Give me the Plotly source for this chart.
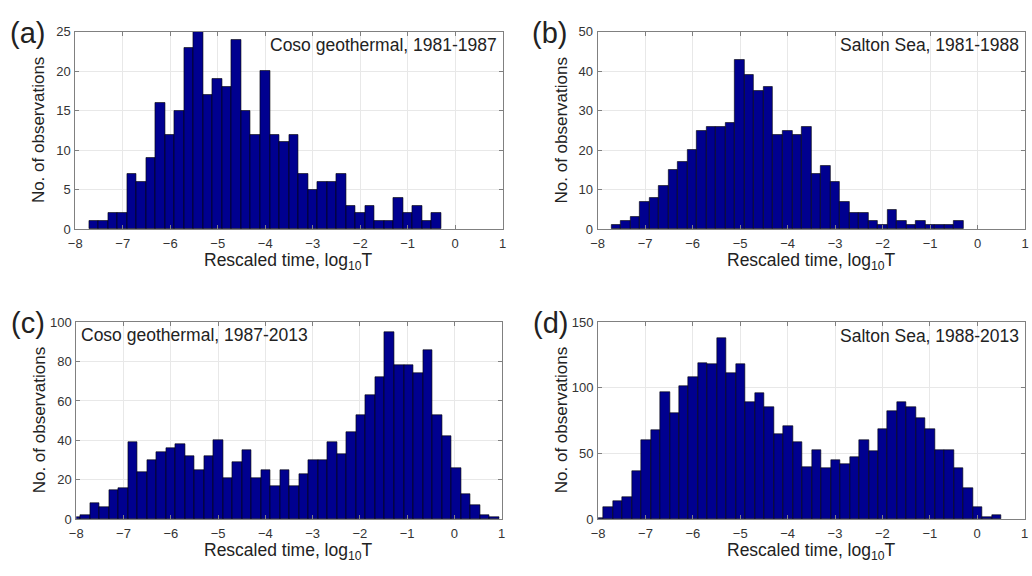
import numpy as np
import plotly.graph_objects as go

# ---- data ----
x_tick_vals = [-8, -7, -6, -5, -4, -3, -2, -1, 0, 1]

# (a) Coso geothermal, 1981-1987
a_counts = [1, 1, 2, 2, 7, 6, 9, 16, 12, 15, 23, 25, 17, 19, 18, 24, 15, 12, 20,
            12, 11, 12, 7, 5, 6, 6, 7, 3, 2, 3, 1, 1, 4, 2, 3, 1, 2]
a_bin_start = -7.71
a_bin_width = 0.2003

# (b) Salton Sea, 1981-1988
b_counts = [1, 2, 3, 7, 8, 11, 15, 17, 20, 25, 26, 26, 27, 43, 39, 35, 36, 24, 25,
            24, 26, 14, 16, 12, 7, 4, 4, 2, 1, 5, 2, 1, 2, 1, 1, 1, 2]
b_bin_start = -7.71
b_bin_width = 0.2003

# (c) Coso geothermal, 1987-2013
c_counts = [1, 2, 8, 6, 15, 16, 39, 24, 30, 34, 36, 38, 32, 25, 32, 40, 21, 29, 35,
            21, 25, 17, 25, 17, 23, 30, 30, 39, 33, 44, 53, 63, 72, 95, 78, 78, 74,
            86, 53, 42, 26, 13, 7, 2, 1]
c_bin_start = -8.11
c_bin_width = 0.2011

# (d) Salton Sea, 1988-2013
d_counts = [1, 9, 14, 17, 37, 60, 68, 97, 81, 101, 108, 119, 118, 138, 111, 118, 89,
            96, 85, 65, 71, 59, 40, 53, 39, 45, 42, 47, 60, 52, 69, 82, 89, 85, 77,
            69, 53, 53, 39, 24, 9, 2, 3]
d_bin_start = -8.09
d_bin_width = 0.2

panel_labels = ["(a)", "(b)", "(c)", "(d)"]
panel_titles = ["Coso geothermal, 1981-1987", "Salton Sea, 1981-1988",
                "Coso geothermal, 1987-2013", "Salton Sea, 1988-2013"]
y_ranges = [[0, 25], [0, 50], [0, 100], [0, 150]]
y_dticks = [5, 10, 20, 50]
x_title = "Rescaled time, log<sub>10</sub>T"
y_title = "No. of observations"

# ---- figure ----
W, H = 1032, 576
FONT = "Liberation Sans, Arial, Helvetica, sans-serif"
TXT = "#222222"
BAR = "#00008f"

# plot-area pixel boxes (left, right, top, bottom)
boxes = [(69, 501, 25.5, 228), (597, 1029, 25.5, 228),
         (70, 500, 323.5, 526), (597.5, 1028.5, 323.5, 526)]

series = [(a_counts, a_bin_start, a_bin_width),
          (b_counts, b_bin_start, b_bin_width),
          (c_counts, c_bin_start, c_bin_width),
          (d_counts, d_bin_start, d_bin_width)]

fig = go.Figure()
layout = dict(width=W, height=H, margin=dict(l=0, r=0, t=0, b=0),
              paper_bgcolor="white", plot_bgcolor="white", showlegend=False,
              font=dict(family=FONT, color=TXT), bargap=0)
annotations = []

for i, ((counts, start, width), box) in enumerate(zip(series, boxes)):
    n = i + 1
    sfx = "" if n == 1 else str(n)
    centers = start + width * (np.arange(len(counts)) + 0.5)
    fig.add_trace(go.Bar(
        x=centers, y=counts, width=width,
        marker=dict(color=BAR, line=dict(color="black", width=0.6)),
        xaxis="x" + sfx, yaxis="y" + sfx, hoverinfo="x+y"))
    l, r, t, b = box
    common = dict(showline=True, linecolor="#808080", linewidth=1, mirror="ticks",
                  ticks="inside", ticklen=4, tickcolor="#808080",
                  showgrid=True, gridcolor="#e8e8e8", gridwidth=1, zeroline=False,
                  tickfont=dict(size=13, color="#333333", family=FONT))
    layout["xaxis" + sfx] = dict(common, domain=[l / W, r / W], anchor="y" + sfx,
                                 range=[-8, 1], tickvals=x_tick_vals,
                                 ticklabelstandoff=2)
    layout["yaxis" + sfx] = dict(common, domain=[1 - b / H, 1 - t / H], anchor="x" + sfx,
                                 range=y_ranges[i], dtick=y_dticks[i], tick0=0,
                                 ticklabelstandoff=1)
    # panel label
    annotations.append(dict(text=panel_labels[i], xref="paper", yref="paper",
                            x=(l - 68) / W, y=1 - (t + 1) / H, xanchor="left",
                            yanchor="middle", showarrow=False,
                            font=dict(size=29, color=TXT)))
    # inset title
    if i == 2:
        annotations.append(dict(text=panel_titles[i], xref="paper", yref="paper",
                                x=(l + 3) / W, y=1 - (t + 13.5) / H, xanchor="left",
                                yanchor="middle", showarrow=False,
                                font=dict(size=17.5, color=TXT)))
    else:
        annotations.append(dict(text=panel_titles[i], xref="paper", yref="paper",
                                x=(r - 4) / W, y=1 - (t + 14) / H, xanchor="right",
                                yanchor="middle", showarrow=False,
                                font=dict(size=17.5, color=TXT)))
    # axis titles
    annotations.append(dict(text=x_title, xref="paper", yref="paper",
                            x=(l + r) / 2 / W, y=1 - (b + 33) / H, xanchor="center",
                            yanchor="middle", showarrow=False,
                            font=dict(size=17.5, color=TXT)))
    annotations.append(dict(text=y_title, xref="paper", yref="paper",
                            x=(l - 37) / W, y=1 - (t + b) / 2 / H, xanchor="center",
                            yanchor="middle", textangle=-90, showarrow=False,
                            font=dict(size=17, color=TXT)))

layout["annotations"] = annotations
fig.update_layout(**layout)
fig.write_html(
    "out.html",
    config={"displayModeBar": False},
    post_script=("document.documentElement.style.margin='0';"
                 "document.body.style.margin='0';"
                 "document.body.style.overflow='hidden';"),
)
